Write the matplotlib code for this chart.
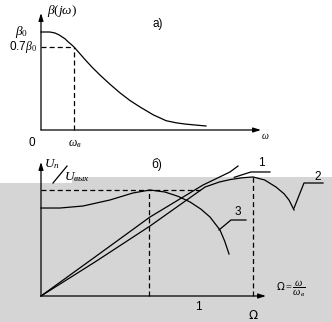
import matplotlib
matplotlib.use("Agg")
import matplotlib.pyplot as plt
from matplotlib.patches import Polygon

plt.rcParams['font.family'] = ['Liberation Sans', 'DejaVu Sans']
plt.rcParams['mathtext.fontset'] = 'custom'
plt.rcParams['mathtext.it'] = 'Liberation Serif:italic'
plt.rcParams['mathtext.rm'] = 'Liberation Serif'

# --- panel a): beta(jw), normalised so beta0 = 1, w_v = 1
w_a = [0, 0.27, 0.42, 0.55, 0.64, 0.73, 0.82, 0.91, 1.0, 1.15, 1.33, 1.55, 1.79,
       2.08, 2.39, 2.70, 3.0, 3.4, 3.79, 4.1, 4.36, 4.7, 5.0]
beta = [1.0, 1.0, 0.99, 0.97, 0.95, 0.93, 0.90, 0.875, 0.847, 0.79, 0.72, 0.64, 0.56,
        0.47, 0.38, 0.30, 0.235, 0.155, 0.095, 0.073, 0.061, 0.05, 0.041]
beta_07 = 0.847      # where the 0.7*beta0 mark sits in the drawing
w_v = 1.0

# --- panel b): U_out / U_in vs Omega
om1 = [0, 0.5, 1.009, 1.5, 1.75, 1.824]
k1 = [0, 0.368, 0.745, 1.047, 1.170, 1.226]
om2 = [0, 0.5, 1.009, 1.519, 1.65, 1.75, 1.86, 1.963, 2.07, 2.176, 2.25, 2.296, 2.343]
k2 = [0, 0.321, 0.660, 1.028, 1.075, 1.098, 1.115, 1.123, 1.095, 1.028, 0.965, 0.906, 0.811]
om3 = [0, 0.176, 0.389, 0.639, 0.852, 1.009, 1.148, 1.27, 1.380, 1.48, 1.565, 1.657, 1.70, 1.741]
k3 = [0.830, 0.830, 0.849, 0.906, 0.972, 1.0, 0.981, 0.94, 0.887, 0.82, 0.745, 0.623, 0.52, 0.396]
om_peak, k_peak = 1.963, 1.123
leaders = {
    '1': ([1.79, 1.944, 2.12], [1.12, 1.170, 1.170], (2.037, 1.255)),
    '2': ([2.343, 2.435, 2.611], [0.830, 1.066, 1.066], (2.565, 1.123)),
    '3': ([1.648, 1.759, 1.898], [0.623, 0.717, 0.717], (1.824, 0.792)),
}

W, H = 332, 322
fig = plt.figure(figsize=(W / 100, H / 100), dpi=100)
fig.patch.set_facecolor('white')

# grey band over the lower part (scan artefact of the original)
gray = [(0, 0), (W, 0), (W, H - 177), (72, H - 177), (72, H - 183), (0, H - 183)]
fig.add_artist(Polygon([(x / W, y / H) for x, y in gray], closed=True,
                       transform=fig.transFigure, facecolor='#d5d5d5',
                       edgecolor='none', zorder=0))

lw = 0.9
dash = (0, (4, 2.5))
arrow = dict(arrowstyle='-|>,head_length=0.45,head_width=0.14', color='black',
             lw=lw, shrinkA=0, shrinkB=0)
line = dict(color='black', lw=lw, clip_on=False)


def axes_arrows(ax):
    ax.annotate('', xy=(1, 0), xytext=(0, 0), xycoords='axes fraction',
                arrowprops=arrow, annotation_clip=False)
    ax.annotate('', xy=(0, 1), xytext=(0, 0), xycoords='axes fraction',
                arrowprops=arrow, annotation_clip=False)


# ---------- a)
ax1 = fig.add_axes([41 / W, 1 - 130 / H, 220 / W, 117 / H])
ax1.set_xlim(0, 220 / 33)
ax1.set_ylim(0, 117 / 98)
ax1.axis('off')
ax1.patch.set_alpha(0)
axes_arrows(ax1)
ax1.plot(w_a, beta, **line)
ax1.plot([0, w_v], [beta_07, beta_07], ls=dash, **line)
ax1.plot([w_v, w_v], [0, beta_07], ls=dash, **line)

t = dict(clip_on=False, color='black')
ax1.text(0.636, 1.214, r'$\beta(j\omega)$', fontsize=9.5, ha='center', va='center', **t)
ax1.text(3.545, 1.082, 'a)', fontsize=8.5, ha='center', va='center', **t)
ax1.text(-0.58, 1.0, r'$\beta_{0}$', fontsize=9.5, ha='center', va='center', **t)
ax1.text(-0.12, beta_07, r'0.7$\beta_{0}$', fontsize=8.5, ha='right', va='center', **t)
ax1.text(-0.27, -0.133, '0', fontsize=8.5, ha='center', va='center', **t)
ax1.text(1.03, -0.143, r'$\omega_{в}$', fontsize=8.5, ha='center', va='center', **t)
ax1.text(6.80, -0.06, r'$\omega$', fontsize=7, ha='center', va='center', **t)

# ---------- б)
ax2 = fig.add_axes([41 / W, 1 - 296 / H, 225 / W, 134 / H])
ax2.set_xlim(0, 225 / 108)
ax2.set_ylim(0, 134 / 106)
ax2.axis('off')
ax2.patch.set_alpha(0)
axes_arrows(ax2)
ax2.plot(om1, k1, **line)
ax2.plot(om2, k2, **line)
ax2.plot(om3, k3, **line)
ax2.plot([0, 1.49], [1, 1], ls=dash, **line)
ax2.plot([1.0, 1.0], [0, 1], ls=dash, **line)
ax2.plot([om_peak, om_peak], [0, k_peak], ls=dash, **line)
for name, (lx, ly, (tx, ty)) in leaders.items():
    ax2.plot(lx, ly, **line)
    ax2.text(tx, ty, name, fontsize=8.5, ha='center', va='center', **t)

ax2.text(0.10, 1.245, r'$U_{п}$', fontsize=9.5, ha='center', va='center', **t)
ax2.plot([0.111, 0.241], [1.066, 1.226], **line)
ax2.text(0.215, 1.12, r'$U_{вых}$', fontsize=9.5, ha='left', va='center', **t)
ax2.text(1.074, 1.236, 'б)', fontsize=8.5, ha='center', va='center', **t)
ax2.text(2.18, 0.066, r'$\mathsf{\Omega}=\dfrac{\omega}{\omega_{в}}$', fontsize=7.5,
         ha='left', va='center', **t)
ax2.text(1.454, -0.104, '1', fontsize=8.5, ha='center', va='center', **t)
ax2.text(om_peak, -0.125, r'$\mathsf{\Omega}$', fontsize=8.5, ha='center', va='top', **t)

fig.savefig('out.png', dpi=100)
